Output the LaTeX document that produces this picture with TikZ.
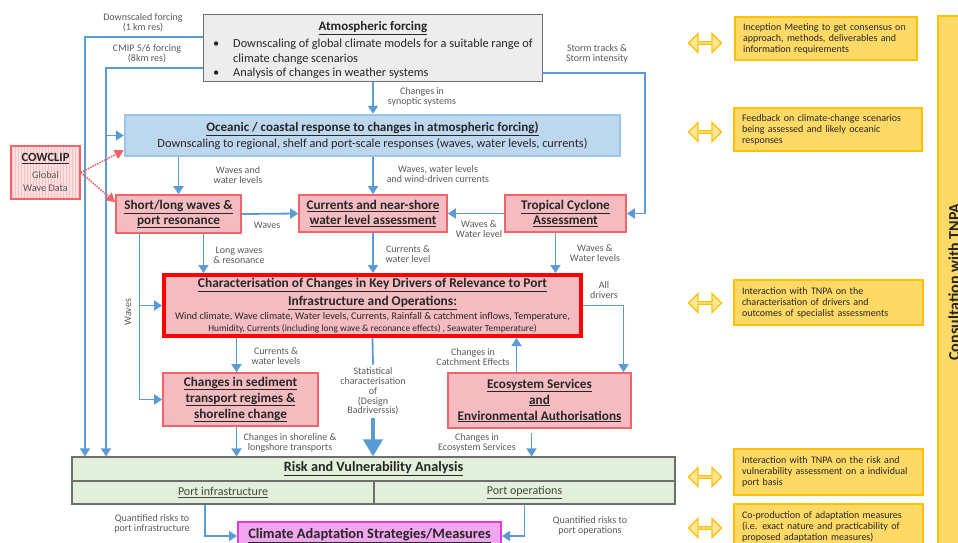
\documentclass[tikz,border=0pt]{standalone}
\usepackage{fontspec}
\setmainfont{Carlito}
\usetikzlibrary{arrows.meta,shapes.arrows,patterns}

\definecolor{flowblue}{HTML}{5B9BD5}
\definecolor{lblgray}{HTML}{595959}
\definecolor{txtdark}{HTML}{262626}
\definecolor{atmfill}{HTML}{EDEDED}
\definecolor{atmline}{HTML}{6E6E6E}
\definecolor{oceanfill}{HTML}{BDD7EE}
\definecolor{oceanline}{HTML}{9DC3E6}
\definecolor{pinkfill}{HTML}{F4BCC0}
\definecolor{pinkline}{HTML}{F0646A}
\definecolor{cowfill}{HTML}{FBE0E0}
\definecolor{riskfill}{HTML}{E2EFDA}
\definecolor{risktext}{HTML}{3F4A3A}
\definecolor{climfill}{HTML}{F2A6EE}
\definecolor{climline}{HTML}{E23ADC}
\definecolor{tnpafill}{HTML}{FFD966}
\definecolor{tnpaline}{HTML}{FFC000}
\definecolor{dblfill}{HTML}{FFE699}

\newcommand{\undl}[1]{\underline{#1}}

\begin{document}
\begin{tikzpicture}[x=1pt, y=-1pt,
    box/.style={draw, rectangle, align=center, text=txtdark, inner sep=2pt},
    pinkbox/.style={box, fill=pinkfill, draw=pinkline, line width=1.6pt, font=\fontsize{13.2}{15}\selectfont\bfseries},
    riskbox/.style={box, fill=riskfill, draw=atmline, line width=1.1pt},
    tnpa/.style={box, fill=tnpafill, draw=tnpaline, line width=2pt, align=left, font=\fontsize{10}{11}\selectfont, inner xsep=8pt},
    dbl/.style={double arrow, draw=tnpaline, fill=dblfill, line width=1.3pt, minimum height=33pt, minimum width=19pt, double arrow head extend=4pt, inner sep=0pt},
    flow/.style={draw=flowblue, line width=1.8pt, -{Triangle[length=8pt, width=10pt]}},
    bigflow/.style={draw=flowblue, line width=4pt, -{Triangle[length=17pt, width=19pt]}},
    dotflow/.style={draw=pinkline, line width=1.6pt, densely dotted, -{Triangle[length=9pt, width=10pt]}},
    lbl/.style={font=\fontsize{10}{10}\selectfont, text=lblgray, align=center, inner sep=0pt}
  ]
  \useasboundingbox (0,0) rectangle (958,543);

  % Atmospheric forcing
  \node[box, fill=atmfill, draw=atmline, line width=1.2pt, minimum width=339pt, minimum height=67pt, inner sep=0pt,
        font=\fontsize{12.3}{14.5}\selectfont] (atm) at (373,48)
    {\begin{tabular}{@{}p{12pt}@{\hspace{8pt}}l@{}}
       \multicolumn{2}{c}{\rule{0pt}{16pt}\fontsize{13}{14.5}\selectfont\bfseries\undl{Atmospheric forcing}}\\[2.5pt]
       \textbullet & Downscaling of global climate models for a suitable range of\\[0.5pt]
       & climate change scenarios\\[-0.5pt]
       \textbullet & Analysis of changes in weather systems
     \end{tabular}};

  % Oceanic response
  \node[box, fill=oceanfill, draw=oceanline, line width=2.5pt, minimum width=495pt, minimum height=41pt,
        font=\fontsize{12.3}{16}\selectfont] (ocean) at (372.5,135.5)
    {{\fontsize{13}{16}\selectfont\bfseries\undl{Oceanic / coastal response to changes in atmospheric forcing)}}\\
     Downscaling to regional, shelf and port-scale responses (waves, water levels, currents)};

  % COWCLIP
  \node[box, preaction={fill=cowfill}, pattern=vertical lines, pattern color=pinkline!40, draw=pinkline, line width=1.6pt,
        minimum width=69pt, minimum height=53pt, font=\fontsize{10.2}{13}\selectfont] (cow) at (45.5,172.5)
    {{\fontsize{12.5}{13}\selectfont\bfseries\undl{COWCLIP}}\\[4pt]\textcolor{lblgray}{Global}\\\textcolor{lblgray}{Wave Data}};

  % Specialist assessments
  \node[pinkbox, minimum width=125pt, minimum height=38pt] (short) at (178.5,214)
    {\undl{Short/long  waves \&}\\\undl{port resonance}};
  \node[pinkbox, minimum width=148pt, minimum height=37pt] (cur) at (373,213.5)
    {\undl{Currents and near-shore}\\\undl{water level assessment}};
  \node[pinkbox, minimum width=121pt, minimum height=37pt] (tc) at (565.5,213.5)
    {\undl{Tropical  Cyclone}\\\undl{Assessment}};

  % Key drivers
  \node[box, fill=pinkfill, draw=red, line width=4pt, minimum width=417pt, minimum height=61pt, inner sep=0pt,
        font=\fontsize{10}{12}\selectfont] (char) at (372.5,305.5)
    {{\fontsize{13.4}{12}\selectfont\bfseries\undl{Characterisation  of Changes in Key Drivers of Relevance to Port}}\\[4pt]
     {\fontsize{13.4}{12}\selectfont\bfseries\undl{Infrastructure and Operations:}}\\[2pt]
     {\fontsize{10.2}{12}\selectfont Wind climate, Wave climate, Water levels, Currents, Rainfall \& catchment inflows, Temperature,}\\
     {\fontsize{9.4}{12}\selectfont Humidity, Currents (including long wave \&  reconance effects) , Seawater Temperature)}};

  \node[pinkbox, minimum width=155pt, minimum height=53pt, font=\fontsize{13.2}{16}\selectfont\bfseries] (sed) at (240.5,399.5)
    {\undl{Changes in sediment}\\\undl{transport regimes \&}\\\undl{shoreline change}};
  \node[pinkbox, minimum width=183pt, minimum height=55pt, font=\fontsize{13.2}{16}\selectfont\bfseries] (eco) at (539.5,400.5)
    {\undl{Ecosystem Services}\\\undl{and}\\\undl{Environmental  Authorisations}};

  % Risk and vulnerability
  \node[riskbox, minimum width=603pt, minimum height=24pt, font=\fontsize{14.2}{15}\selectfont\bfseries] (risk) at (373.5,469)
    {\undl{Risk and Vulnerability Analysis}};
  \node[riskbox, minimum width=302pt, minimum height=23pt, text=risktext, font=\fontsize{12}{13}\selectfont] (pinf) at (223,492.5)
    {\undl{Port infrastructure}};
  \node[riskbox, minimum width=301pt, minimum height=23pt, text=risktext, font=\fontsize{12}{13}\selectfont] (pops) at (524.5,492.5)
    {\undl{Port operations}};

  \node[box, fill=climfill, draw=climline, line width=2pt, minimum width=263pt, minimum height=28pt,
        font=\fontsize{14.4}{15}\selectfont\bfseries] (clim) at (369.5,536)
    {\undl{Climate Adaptation Strategies/Measures}};

  % Consultation with TNPA
  \node[tnpa, text width=166pt, minimum height=43pt] (t1) at (826,38.5)
    {Inception Meeting  to get consensus on\\approach, methods,  deliverables and\\information requirements};
  \node[tnpa, text width=172pt, minimum height=43pt] (t2) at (828,129.5)
    {Feedback on climate-change scenarios\\being assessed and likely oceanic\\responses};
  \node[tnpa, text width=173pt, minimum height=45pt] (t3) at (828.5,302.5)
    {Interaction with TNPA  on  the\\characterisation of drivers and\\outcomes of specialist  assessments};
  \node[tnpa, text width=173pt, minimum height=46pt] (t4) at (828.5,472)
    {Interaction with TNPA  on  the risk and\\vulnerability  assessment  on a individual\\port basis};
  \node[tnpa, text width=173pt, minimum height=45pt] (t5) at (828.5,526.5)
    {Co-production  of adaptation measures\\(i.e. exact nature and practicability of\\proposed  adaptation measures)};

  \node[dbl] (d1) at (705,43) {};
  \node[dbl] (d2) at (705,132) {};
  \node[dbl] (d3) at (705,303) {};
  \node[dbl] (d4) at (705,477) {};
  \node[dbl] (d5) at (705,528) {};

  \node[box, fill=tnpafill, draw=tnpaline, line width=2pt, minimum width=37pt, minimum height=539pt] (cons) at (956.5,285.5) {};
  \node[rotate=90, font=\fontsize{16}{18}\selectfont\bfseries, text=txtdark] (constxt) at (954,282) {Consultation  with  TNPA};

  % Forcing lines
  \coordinate (dsf) at (85,37);
  \coordinate (cmip) at (106,68);
  \coordinate (storm) at (645,73);
  \draw[flow] (atm.west |- dsf) -| (dsf |- risk.north);
  \draw[flow] (atm.west |- cmip) -| (cmip |- risk.north);
  \draw[flow] (cmip |- ocean.west) -- (ocean.west);
  \draw[flow] (atm.east |- storm) -| (storm |- tc.east) -- (tc.east);
  \draw[flow] (atm.south) -- (atm.south |- ocean.north);

  \node[lbl] (dsflbl) at (143,23) {Downscaled forcing\\(1 km res)};
  \node[lbl] (cmiplbl) at (147,54) {CMIP 5/6 forcing\\(8km res)};
  \node[lbl] (stormlbl) at (597,54) {Storm tracks \&\\Storm  intensity};
  \node[lbl] (synlbl) at (422,97) {Changes in\\synoptic systems};

  % COWCLIP links
  \draw[dotflow] (cow.east) -- ([yshift=7pt]ocean.south west);
  \draw[dotflow] (cow.east) -- ([yshift=-8pt]short.north west);

  % Oceanic response to specialist assessments
  \draw[flow] (ocean.south -| short.north) -- (short.north);
  \draw[flow] (ocean.south -| cur.north) -- (cur.north);
  \draw[flow] (short.east) -- (cur.west);
  \draw[flow] (tc.west) -- (cur.east);
  \node[lbl] (wwllbl) at (238,175) {Waves and\\water levels};
  \node[lbl] (wwdlbl) at (438,174) {Waves, water levels\\and wind-driven currents};
  \node[lbl] (wvlbl) at (267,225) {Waves};
  \node[lbl] (wwl2lbl) at (479,229) {Waves \&\\Water level};

  % Into key drivers
  \draw[flow] ([xshift=25pt]short.south) -- ([xshift=25pt]short.south |- char.north);
  \draw[flow] (cur.south) -- (cur.south |- char.north);
  \draw[flow] ([xshift=-10pt]tc.south) -- ([xshift=-10pt]tc.south |- char.north);
  \draw[flow] ([xshift=-39pt]short.south) |- (sed.west);
  \draw[flow] ([xshift=-39pt]short.south |- char.west) -- (char.west);
  \node[lbl] (lwrlbl) at (239,255) {Long waves\\\& resonance};
  \node[lbl] (cwllbl) at (408,254) {Currents  \&\\water level};
  \node[lbl] (wwlslbl) at (595,253) {Waves  \&\\Water levels};
  \node[lbl, rotate=90] (wavlbl) at (128,312) {Waves};

  % Out of key drivers
  \draw[flow] ([xshift=-4pt]sed.north |- char.south) -- ([xshift=-4pt]sed.north);
  \draw[flow] (char.east) -| ([xshift=84pt]eco.north);
  \draw[flow] ([xshift=-23pt]eco.north) -- ([xshift=-23pt]eco.north |- char.south);
  \node[lbl] (cwlslbl) at (276,356) {Currents  \&\\water levels};
  \node[lbl] (alllbl) at (604,290) {All\\drivers};
  \node[lbl] (ccelbl) at (473,357) {Changes in\\Catchment Effects};

  \node[lbl, inner sep=3pt, font=\fontsize{10}{9.8}\selectfont] (stat) at (373,391.5) {Statistical\\characterisation\\of\\(Design\\Badriverssis)};
  \draw[draw=flowblue, line width=1.8pt] (char.south) -- (stat.north);
  \draw[bigflow] (stat.south) -- (stat.south |- risk.north);

  % Into risk analysis
  \draw[flow] ([xshift=-4pt]sed.south) -- ([xshift=-4pt]sed.south |- risk.north);
  \draw[flow] ([xshift=-8pt,yshift=-4pt]eco.south) -- ([xshift=-8pt]eco.south |- risk.north);
  \node[lbl] (csllbl) at (290,443) {Changes in shoreline \&\\longshore transports};
  \node[lbl] (ceslbl) at (477,443) {Changes in\\Ecosystem Services};

  % Adaptation
  \draw[flow] ([xshift=-18pt]pinf.south) |- (clim.west);
  \draw[flow] (pops.south) |- (clim.east);
  \node[lbl] (qrilbl) at (152,524) {Quantified risks to\\port infrastructure};
  \node[lbl] (qrolbl) at (590,526) {Quantified risks to\\port operations};
\end{tikzpicture}
\end{document}
